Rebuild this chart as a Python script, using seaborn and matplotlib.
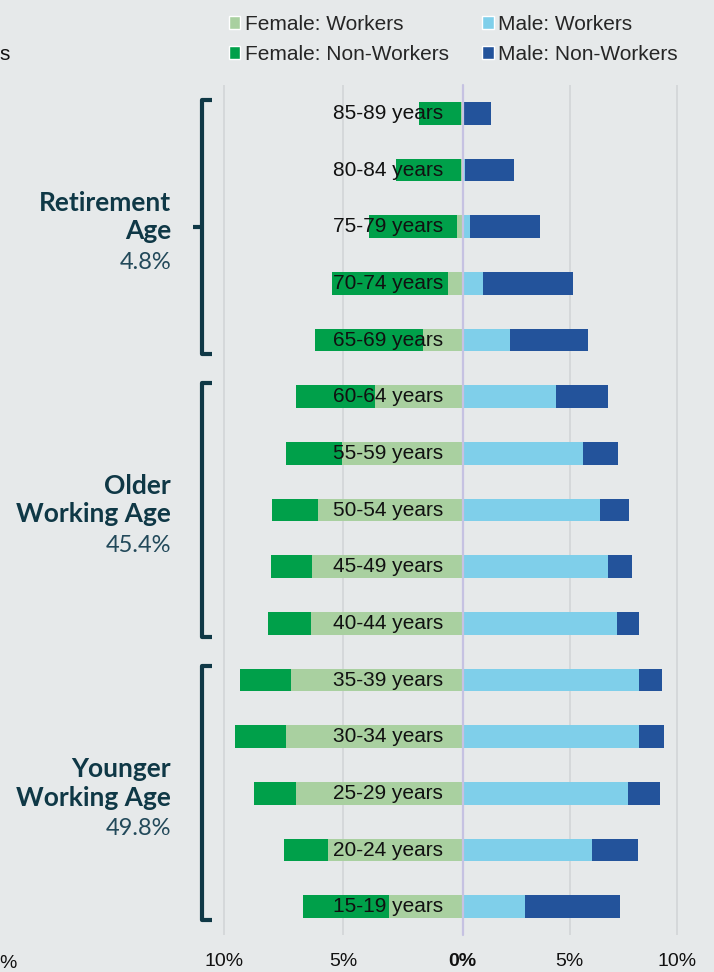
import numpy as np
import pandas as pd
import matplotlib
matplotlib.use("Agg")
import matplotlib.pyplot as plt
import matplotlib.transforms as mtrans
from matplotlib.lines import Line2D
from matplotlib.patches import Patch
import seaborn as sns

# ---------------- data ----------------
age_groups = ["85-89 years", "80-84 years", "75-79 years", "70-74 years", "65-69 years",
              "60-64 years", "55-59 years", "50-54 years", "45-49 years", "40-44 years",
              "35-39 years", "30-34 years", "25-29 years", "20-24 years", "15-19 years"]
female_workers = [0.05, 0.08, 0.22, 0.62, 1.64, 3.66, 5.07, 6.04, 6.30, 6.37, 7.18, 7.41, 7.00, 5.62, 3.07]
female_non_workers = [1.76, 2.71, 3.69, 4.85, 4.54, 3.34, 2.34, 1.93, 1.73, 1.77, 2.16, 2.14, 1.75, 1.86, 3.61]
male_workers = [0.05, 0.12, 0.36, 0.96, 2.22, 4.36, 5.63, 6.40, 6.76, 7.18, 8.22, 8.22, 7.72, 6.02, 2.91]
male_non_workers = [1.28, 2.27, 3.25, 4.17, 3.61, 2.40, 1.61, 1.35, 1.16, 1.07, 1.10, 1.19, 1.47, 2.14, 4.42]

group_names = ["Retirement\nAge", "Older\nWorking Age", "Younger\nWorking Age"]
group_shares = ["4.8%", "45.4%", "49.8%"]
group_first = [0, 5, 10]
group_last = [4, 9, 14]

left_ticks = [10, 5]
left_ticklabels = ["10%", "5%"]
right_ticks = [0, 5, 10]
right_ticklabels = ["0%", "5%", "10%"]

legend_labels = ["Female: Workers", "Female: Non-Workers", "Male: Workers", "Male: Non-Workers"]

# ---------------- style ----------------
BG = "#e6e9ea"
C_FW = "#a9d0a0"
C_FNW = "#00a04a"
C_MW = "#7fcfea"
C_MNW = "#23539b"
GRID = "#d5d8da"
ZERO = "#c6c2e2"
DARK = "#0f3846"
SANS = ["Liberation Sans", "DejaVu Sans"]
GEO = ["Lato", "DejaVu Sans"]

sns.set_style("white", {"axes.facecolor": BG, "figure.facecolor": BG})
plt.rcParams["font.family"] = SANS

df = pd.DataFrame({
    "age": age_groups,
    "fw": female_workers,
    "fnw": female_non_workers,
    "mw": male_workers,
    "mnw": male_non_workers,
})
df["f_total"] = df["fw"] + df["fnw"]
df["m_total"] = df["mw"] + df["mnw"]

W, H = 714, 972
fig = plt.figure(figsize=(W / 100, H / 100), dpi=100)
fig.patch.set_facecolor(BG)

zero_px = 462.5
ppl = (zero_px - 224) / 10.0      # px per % left
ppr = (677 - zero_px) / 10.0      # px per % right
top_px, bot_px = 85, 935
l_left = 219
r_right = 682
axL = fig.add_axes([l_left / W, 1 - bot_px / H, (zero_px - l_left) / W, (bot_px - top_px) / H])
axR = fig.add_axes([zero_px / W, 1 - bot_px / H, (r_right - zero_px) / W, (bot_px - top_px) / H])

bw = 0.4
sns.barplot(data=df, y="age", x="f_total", order=age_groups, color=C_FNW, width=bw,
            errorbar=None, saturation=1, linewidth=0, ax=axL, zorder=2)
sns.barplot(data=df, y="age", x="fw", order=age_groups, color=C_FW, width=bw,
            errorbar=None, saturation=1, linewidth=0, ax=axL, zorder=2)
sns.barplot(data=df, y="age", x="m_total", order=age_groups, color=C_MNW, width=bw,
            errorbar=None, saturation=1, linewidth=0, ax=axR, zorder=2)
sns.barplot(data=df, y="age", x="mw", order=age_groups, color=C_MW, width=bw,
            errorbar=None, saturation=1, linewidth=0, ax=axR, zorder=2)

axL.set_xlim((zero_px - l_left) / ppl, 0)
axR.set_xlim(0, (r_right - zero_px) / ppr)
for ax in (axL, axR):
    ax.set_ylim(len(age_groups) - 0.5, -0.5)
    ax.set_facecolor(BG)
    for s in ax.spines.values():
        s.set_visible(False)
    ax.set_yticks([])
    ax.set_ylabel("")
    ax.set_xlabel("")
    ax.xaxis.grid(True, color=GRID, lw=1.4, zorder=0)
    ax.set_axisbelow(True)
    ax.tick_params(axis="x", length=0, pad=13, labelsize=14, labelcolor="#111111")

axL.set_xticks(left_ticks)
axL.set_xticklabels(left_ticklabels, family=SANS)
axR.set_xticks(right_ticks)
axR.set_xticklabels(right_ticklabels, family=SANS)
axR.get_xticklabels()[0].set_fontweight("bold")
axR.xaxis.get_gridlines()[0].set_visible(False)

axR.axvline(0, color=ZERO, lw=1.6, zorder=4, clip_on=False)

# category labels inside the bars
for i, lab in enumerate(age_groups):
    axL.text(19.5 / ppl, i + 5.7 / 56.67, lab, ha="right", va="baseline",
             fontsize=15, family=SANS, color="#111111", zorder=6)

# brackets and group labels
trans = mtrans.blended_transform_factory(fig.transFigure, axL.transData)
xv = 201.5 / W
xa = 212 / W
for k, (name, share, a, b) in enumerate(zip(group_names, group_shares, group_first, group_last)):
    t = a - 0.24
    bt = b + 0.24
    fig.add_artist(Line2D([xa, xv, xv, xa], [t, t, bt, bt], transform=trans, color=DARK,
                          lw=3.0, solid_joinstyle="round", solid_capstyle="butt"))
    c = (a + b) / 2
    if k == 0:
        fig.add_artist(Line2D([193 / W, xv], [c, c], transform=trans, color=DARK, lw=3.0,
                              solid_capstyle="butt"))
    l1, l2 = name.split("\n")
    fig.text(171 / W, c - 16 / 56.67, l1, transform=trans, ha="right", va="baseline",
             fontsize=19, fontweight="bold", family=GEO, color=DARK)
    fig.text(171 / W, c + 12.5 / 56.67, l2, transform=trans, ha="right", va="baseline",
             fontsize=19, fontweight="bold", family=GEO, color=DARK)
    fig.text(171 / W, c + 42 / 56.67, share, transform=trans, ha="right", va="baseline",
             fontsize=17, fontweight="normal", family=GEO, color="#22495a")

# legend
handles = [Patch(facecolor=C_FW), Patch(facecolor=C_FNW), Patch(facecolor=C_MW), Patch(facecolor=C_MNW)]
fig.legend(handles, legend_labels, ncol=2, loc="upper left", bbox_to_anchor=(229 / W, 1 - 15 / H),
           frameon=False, handlelength=0.55, handleheight=0.55, handletextpad=0.22,
           columnspacing=1.6, labelspacing=0.52, borderpad=0, borderaxespad=0,
           prop={"family": SANS, "size": 15})

# cropped text fragments at the left edge
fig.text(-1 / W, 1 - 60 / H, "s", fontsize=15, family=SANS, ha="left", va="baseline", color="#111111")
fig.text(-1 / W, 1 - 968 / H, "%", fontsize=14, family=SANS, ha="left", va="baseline", color="#111111")

fig.savefig("out.png", dpi=100, facecolor=BG)
